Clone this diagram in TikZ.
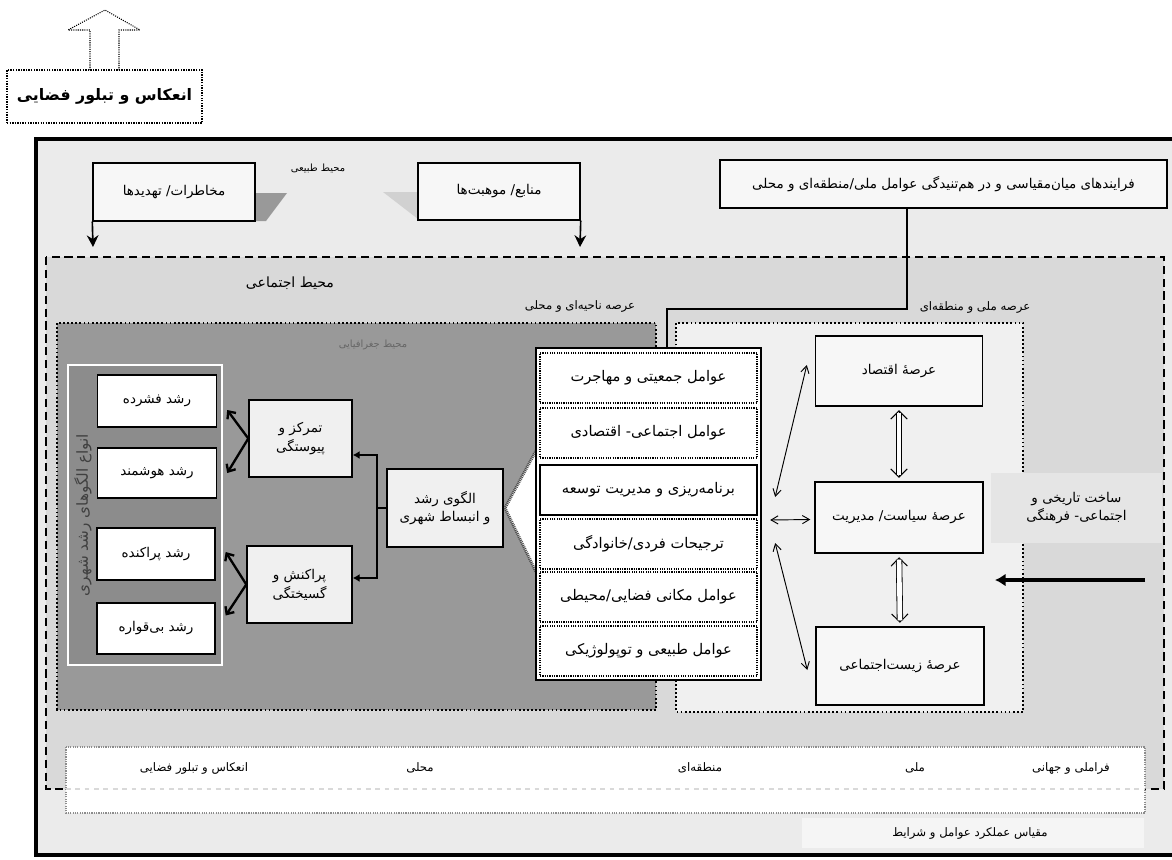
\documentclass[tikz,border=0pt]{standalone}
\usepackage{fontspec}
\usetikzlibrary{arrows.meta,calc}
\newfontfamily\farsifont[Script=Arabic]{DejaVu Sans}
\TeXXeTstate=1
\newcommand\fatx[1]{{\farsifont\beginR #1\endR}}

\tikzset{
  wh/.style 2 args={minimum width=#1*0.03cm, minimum height=#2*0.03cm},
  box/.style={draw, line width=1.2pt, fill=white, inner sep=1pt, align=center,
    font=\farsifont\fontsize{11.5}{16}\selectfont},
  rowbox/.style={box, line width=1pt, densely dotted, font=\farsifont\fontsize{12.5}{16}\selectfont},
  lbl/.style={inner sep=1pt, font=\farsifont\fontsize{10}{12}\selectfont},
  regionline/.style={line width=1.5pt, dotted},
  thk/.style={line width=2.2pt, -{Latex[length=6pt,width=7pt]}},
  barb/.style={line width=2pt, -{Straight Barb[length=5pt,width=9pt]}},
  thin2/.style={line width=0.8pt, {Straight Barb[length=6pt,width=7pt]}-{Straight Barb[length=6pt,width=7pt]}},
  hollowtip/.style={line width=0.8pt, {Straight Barb[length=7pt,width=14pt]}-{Straight Barb[length=7pt,width=14pt]}},
  hollowbar/.style={double, double distance=4pt, line width=0.7pt},
  downtip/.style={line width=1.4pt, -{Stealth[length=10pt,width=10pt]}}
}

\begin{document}
\begin{tikzpicture}[x=0.03cm, y=-0.03cm]
    % 1) page and outer frame
    \useasboundingbox (0,0) rectangle (1172,859);
    \fill[black!8] (36,139) rectangle (1180,855);
    \draw[line width=3pt] (1180,139) -- (36,139) -- (36,855) -- (1180,855);

    % 2) reflection box top left
    \node[box, densely dotted, line width=0.9pt, wh={195}{53},
      font=\farsifont\bfseries\fontsize{13.5}{16}\selectfont] (reflect) at (104.5,96.5)
      {\fatx{انعکاس و تبلور فضایی}};
    \draw[densely dotted, line width=0.9pt] (90,70) -- (90,30) -- (68,30) -- (105,10)
      -- (140,30) -- (119,30) -- (119,70);

    % 3) natural environment
    \fill[black!40] (255,193) -- (287,193) -- (266,221) -- (255,221) -- cycle;
    \fill[black!18] (383,192) -- (418,192) -- (418,219) -- cycle;
    \node[box, fill=black!3, wh={162}{58}] (hazard) at (174,192) {\fatx{مخاطرات/ تهدیدها}};
    \node[box, fill=black!3, wh={162}{57}] (resource) at (499,191.5) {\fatx{منابع/ موهبت‌ها}};
    \node[lbl, font=\farsifont\fontsize{8.5}{10}\selectfont] (natenv) at (318,168) {\fatx{محیط طبیعی}};
    \coordinate (hazardin) at (93,247);
    \coordinate (resourcein) at (580,247);
    \draw[downtip] (hazard.south west) -- (hazardin);
    \draw[downtip] (resource.south east) -- (resourcein);
    \node[box, fill=black!3, wh={447}{48}] (toproc) at (943.5,184)
      {\fatx{فرایندهای میان‌مقیاسی و در هم‌تنیدگی عوامل ملی/منطقه‌ای و محلی}};

    % 4) social environment
    \draw[dash pattern=on 7pt off 4pt, line width=1.8pt, fill=black!15] (46,257) rectangle (1164,789);
    \node[lbl, font=\farsifont\fontsize{12}{14}\selectfont] (socenv) at (290,283) {\fatx{محیط اجتماعی}};

    % 5) local and national arenas
    \draw[regionline, fill=black!40] (57,323) rectangle (656,710);
    \draw[regionline, fill=black!6] (676,323) rectangle (1023,712);
    \node[lbl] (localarena) at (580,306) {\fatx{عرصه ناحیه‌ای و محلی}};
    \node[lbl] (natarena) at (975,307) {\fatx{عرصه ملی و منطقه‌ای}};
    \node[lbl, text=black!60, font=\farsifont\fontsize{8.5}{10}\selectfont] (geoenv) at (373,345)
      {\fatx{محیط جغرافیایی}};

    % 6) urban growth types
    \draw[white, line width=1.8pt, fill=black!45] (68,365) rectangle (222,665);
    \node[lbl, rotate=90, text=black!75, font=\farsifont\fontsize{13}{15}\selectfont] (typeslbl)
      at (83,515) {\fatx{انواع الگوهای رشد شهری}};
    \node[box, wh={119}{52}] (compact) at (157,401) {\fatx{رشد فشرده}};
    \node[box, wh={119}{50}] (smart) at (157,473) {\fatx{رشد هوشمند}};
    \node[box, wh={118}{52}] (sprawl) at (156,554) {\fatx{رشد پراکنده}};
    \node[box, wh={118}{51}] (leapfrog) at (156,628.5) {\fatx{رشد بی‌قواره}};
    \node[box, fill=black!6, wh={103}{77}] (concen) at (300.5,438.5)
      {\fatx{تمرکز و}\\\fatx{پیوستگی}};
    \node[box, fill=black!6, wh={105}{77}] (disperse) at (299.5,584.5)
      {\fatx{پراکنش و}\\\fatx{گسیختگی}};
    \node[box, fill=black!6, wh={116}{78}] (pattern) at (445,508)
      {\fatx{الگوی رشد}\\\fatx{و انبساط شهری}};

    % bracket from the pattern box
    \coordinate (split) at (377,508);
    \draw[line width=2.2pt] (pattern.west) -- (split);
    \draw[thk] (split) |- (concen.east |- 0,455);
    \draw[thk] (split) |- (disperse.east |- 0,578);
    \draw[barb] (concen.west) -- ($(compact.east)+(10,9)$);
    \draw[barb] (concen.west) -- ($(smart.east)+(10,0)$);
    \draw[barb] (disperse.west) -- ($(sprawl.east)+(10,-2)$);
    \draw[barb] (disperse.west) -- ($(leapfrog.east)+(10,-13)$);

    % 7) factor column
    \fill[white] (538,447) -- (505,508) -- (538,576) -- cycle;
    \draw[black!70, line width=2.5pt, dash pattern=on 0.8pt off 0.8pt] (538,447) -- (505,508) -- (538,576);
    \node[draw, line width=2pt, fill=white, wh={225}{332}] (col) at (648.5,514) {};
    \node[rowbox, wh={217}{50}] (row1) at (648.5,378) {\fatx{عوامل جمعیتی و مهاجرت}};
    \node[rowbox, wh={217}{50}] (row2) at (648.5,433) {\fatx{عوامل اجتماعی- اقتصادی}};
    \node[rowbox, solid, line width=2pt, wh={217}{50}] (row3) at (648.5,490) {\fatx{برنامه‌ریزی و مدیریت توسعه}};
    \node[rowbox, wh={217}{50}] (row4) at (648.5,544) {\fatx{ترجیحات فردی/خانوادگی}};
    \node[rowbox, wh={217}{50}] (row5) at (648.5,597) {\fatx{عوامل مکانی فضایی/محیطی}};
    \node[rowbox, wh={217}{50}] (row6) at (648.5,651) {\fatx{عوامل طبیعی و توپولوژیکی}};

    % line from the top process box
    \coordinate (bend) at (907,309);
    \coordinate (drop) at (667,309);
    \draw[line width=1.2pt] (toproc.south -| bend) -- (bend) -- (drop) -- (drop |- col.north);

    % 8) national arena boxes
    \node[box, fill=black!3, wh={167}{70}] (econ) at (899,371) {\fatx{عرصهٔ اقتصاد}};
    \node[box, fill=black!3, wh={168}{71}] (policy) at (899,517.5) {\fatx{عرصهٔ سیاست/ مدیریت}};
    \node[box, fill=black!3, wh={168}{78}] (sociallife) at (900,666) {\fatx{عرصهٔ زیست‌اجتماعی}};
    \draw[hollowtip, shorten <=3pt, shorten >=3pt] (econ.south) -- (policy.north);
    \draw[hollowbar, shorten <=5pt, shorten >=5pt] (econ.south) -- (policy.north);
    \draw[hollowtip, shorten <=3pt, shorten >=3pt] (policy.south) -- (sociallife.north);
    \draw[hollowbar, shorten <=5pt, shorten >=5pt] (policy.south) -- (sociallife.north);
    \draw[thin2] ($(col.east)+(13,-17)$) -- ($(econ.west)+(-8,-6)$);
    \draw[thin2] ($(col.east)+(8,6)$) -- ($(policy.west)+(-4,2)$);
    \draw[thin2] ($(col.east)+(13,29)$) -- ($(sociallife.west)+(-8,4)$);

    \node[box, draw=none, fill=black!10, wh={171}{70}] (history) at (1076.5,508)
      {\fatx{ساخت تاریخی و}\\\fatx{اجتماعی- فرهنگی}};
    \coordinate (histfrom) at (1145,580);
    \coordinate (histto) at (995,580);
    \draw[line width=3.5pt, -{Latex[length=9pt,width=11pt]}] (histfrom) -- (histto);

    % 9) scale band at the bottom
    \draw[black!45, densely dotted, line width=1pt, fill=white] (66,747) rectangle (1145,813);
    \draw[black!15, dash pattern=on 4pt off 4pt, line width=1.5pt] (66,789) -- (1145,789);
    \node[lbl] (global) at (1071,768) {\fatx{فراملی و جهانی}};
    \node[lbl] (national) at (915,768) {\fatx{ملی}};
    \node[lbl] (regional) at (700,768) {\fatx{منطقه‌ای}};
    \node[lbl] (local) at (420,768) {\fatx{محلی}};
    \node[lbl] (spatial) at (194,768) {\fatx{انعکاس و تبلور فضایی}};
    \fill[black!4] (802,818) rectangle (1144,848);
    \node[lbl] (scalelbl) at (970,833) {\fatx{مقیاس عملکرد عوامل و شرایط}};
\end{tikzpicture}
\end{document}
